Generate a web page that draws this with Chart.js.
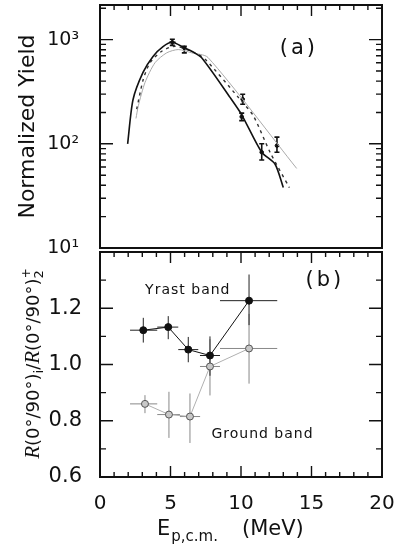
<!DOCTYPE html>
<html>
<head>
<meta charset="utf-8">
<title>Yield and ratio</title>
<script src="https://cdn.jsdelivr.net/npm/chart.js@4.4.1/dist/chart.umd.min.js"></script>
<style>
  body { margin: 0; background: #fff; }
  canvas { position: absolute; left: 0; }
</style>
</head>
<body>
<canvas id="topChart" width="399" height="262" style="top:0"></canvas>
<canvas id="botChart" width="399" height="301" style="top:247px"></canvas>
<script>
// ---- panel (a): normalized yield vs E_p,c.m. ----
const solidE = [1.96, 2.34, 3.05, 3.76, 4.47, 5.13, 5.98, 6.5, 7.21, 9.22, 10.05, 11.47, 12.41, 13.0];
const solidYield = [100, 265, 485, 690, 857, 943, 834, 774, 669, 279, 190, 83, 64, 38];
const dashE = [2.6, 3.07, 3.55, 4.38, 5.32, 6.74, 7.5, 9.81, 10.87, 12.06, 13.43];
const dashYield = [215, 416, 600, 774, 863, 747, 640, 279, 186, 83, 38];
const dotE = [2.55, 2.72, 3.19, 3.9, 4.73, 5.55, 6.5, 7.66, 13.95];
const dotYield = [175, 232, 387, 600, 747, 803, 747, 674, 58];
const measE = [5.13, 5.98, 10.12, 10.05, 11.47, 12.55];
const measYield = [943, 834, 268, 182, 83, 96];
const measLo = [880, 747, 240, 167, 70, 83];
const measHi = [1010, 863, 299, 197, 100, 116];
const measELo = [4.9, 5.98, 10.12, 10.05, 11.47, 12.55];
const measEHi = [5.36, 5.98, 10.12, 10.05, 11.47, 12.55];

// ---- panel (b): ratio R(0/90)_i / R(0/90)_2+ ----
const yrastE = [3.07, 4.84, 6.26, 7.8, 10.57];
const yrastR = [1.122, 1.133, 1.053, 1.032, 1.227];
const yrastRLo = [1.078, 1.09, 1.008, 0.96, 1.14];
const yrastRHi = [1.166, 1.172, 1.098, 1.10, 1.32];
const yrastELo = [2.13, 4.06, 5.55, 7.09, 8.51];
const yrastEHi = [4.06, 5.55, 6.97, 8.51, 12.57];
const groundE = [3.19, 4.89, 6.38, 7.8, 10.57];
const groundR = [0.86, 0.822, 0.815, 0.993, 1.057];
const groundRLo = [0.827, 0.739, 0.721, 0.89, 0.932];
const groundRHi = [0.891, 0.903, 0.897, 1.09, 1.18];
const groundELo = [2.13, 4.06, 5.67, 7.09, 8.51];
const groundEHi = [4.06, 5.67, 7.1, 8.51, 12.57];

const xMajor = [0, 5, 10, 15, 20];
const xMinor = [1, 2, 3, 4, 6, 7, 8, 9, 11, 12, 13, 14, 16, 17, 18, 19];
const yieldMajor = [10, 100, 1000];
const yieldMinor = [];
for (const d of [10, 100, 1000]) for (let k = 2; k <= 9; k++) if (k * d < 2150) yieldMinor.push(k * d);
const ratioMajor = [0.6, 0.8, 1.0, 1.2];
const ratioMinor = [0.7, 0.9, 1.1, 1.3];

const FONT = "'DejaVu Sans', sans-serif";
Chart.defaults.font.family = FONT;
Chart.defaults.color = '#111';
Chart.defaults.animation = false;

const pts = (xs, ys) => xs.map((x, i) => ({ x: x, y: ys[i] }));
const sup = { 1: '\u00b9', 2: '\u00b2', 3: '\u00b3' };
const noPad = s => { s.paddingTop = 0; s.paddingBottom = 0; s.paddingLeft = 0; s.paddingRight = 0; };

// frame + inward tick marks
const frameTicks = {
  id: 'frameTicks',
  afterDraw(chart, args, o) {
    const { ctx, chartArea: a, scales: { x, y } } = chart;
    ctx.save();
    ctx.strokeStyle = '#111';
    ctx.lineWidth = 2;
    ctx.strokeRect(a.left, a.top, a.right - a.left, a.bottom - a.top);
    ctx.lineWidth = 1.4;
    ctx.beginPath();
    const xt = (v, len) => {
      const p = x.getPixelForValue(v);
      ctx.moveTo(p, a.top); ctx.lineTo(p, a.top + len);
      if (o.bottomTicks) { ctx.moveTo(p, a.bottom); ctx.lineTo(p, a.bottom - len); }
    };
    const yt = (v, len) => {
      const p = y.getPixelForValue(v);
      ctx.moveTo(a.left, p); ctx.lineTo(a.left + len, p);
      ctx.moveTo(a.right, p); ctx.lineTo(a.right - len, p);
    };
    xMajor.forEach(v => xt(v, 11));
    xMinor.forEach(v => xt(v, 5));
    o.yMajor.forEach(v => yt(v, 13));
    o.yMinor.forEach(v => yt(v, 6));
    ctx.stroke();
    ctx.restore();
  }
};

const errorBars = {
  id: 'errorBars',
  beforeDatasetsDraw(chart) {
    const { ctx, scales: { x, y } } = chart;
    chart.data.datasets.forEach(ds => {
      const e = ds.errorBars;
      if (!e) return;
      ctx.save();
      ctx.strokeStyle = e.color;
      ctx.lineWidth = e.width;
      ctx.beginPath();
      ds.data.forEach((p, i) => {
        const px = x.getPixelForValue(p.x), py = y.getPixelForValue(p.y);
        const t = y.getPixelForValue(e.hi[i]), b = y.getPixelForValue(e.lo[i]);
        ctx.moveTo(px, t); ctx.lineTo(px, b);
        if (e.cap) {
          ctx.moveTo(px - e.cap, t); ctx.lineTo(px + e.cap, t);
          ctx.moveTo(px - e.cap, b); ctx.lineTo(px + e.cap, b);
        }
        const l = x.getPixelForValue(e.xlo[i]), r = x.getPixelForValue(e.xhi[i]);
        if (r - l > 1) { ctx.moveTo(l, py); ctx.lineTo(r, py); }
      });
      ctx.stroke();
      ctx.restore();
    });
  }
};

// text placed in data coordinates
const notes = {
  id: 'notes',
  afterDraw(chart, args, o) {
    const { ctx, scales: { x, y } } = chart;
    ctx.save();
    ctx.fillStyle = '#111';
    ctx.textBaseline = 'middle';
    (o.items || []).forEach(n => {
      ctx.font = n.font;
      ctx.letterSpacing = n.spacing || '0px';
      ctx.textAlign = n.align || 'left';
      ctx.fillText(n.text, x.getPixelForValue(n.x), y.getPixelForValue(n.y));
    });
    ctx.restore();
    if (o.extra) o.extra(chart);
  }
};

new Chart(document.getElementById('topChart'), {
  type: 'line',
  data: {
    datasets: [
      { data: pts(solidE, solidYield), borderColor: '#111', borderWidth: 1.6, pointRadius: 0, tension: 0.25 },
      { data: pts(dashE, dashYield), borderColor: '#333', borderWidth: 1.4, borderDash: [3, 4], pointRadius: 0, tension: 0.25 },
      { data: pts(dotE, dotYield), borderColor: '#aaa', borderWidth: 1, pointRadius: 0, tension: 0.25 },
      {
        data: pts(measE, measYield), showLine: false, pointRadius: 1.8,
        pointBackgroundColor: '#111', pointBorderColor: '#111',
        errorBars: { lo: measLo, hi: measHi, xlo: measELo, xhi: measEHi, color: '#111', width: 1.6, cap: 2.5 }
      }
    ]
  },
  options: {
    responsive: false,
    layout: { padding: { top: 5, right: 17, bottom: 14, left: 0 } },
    plugins: {
      legend: { display: false },
      tooltip: { enabled: false },
      frameTicks: { yMajor: yieldMajor, yMinor: yieldMinor, bottomTicks: false },
      notes: { items: [{ text: '(a)', x: 14.1, y: 820, font: '21px ' + FONT, align: 'center', spacing: '3px' }] }
    },
    scales: {
      x: { type: 'linear', min: 0, max: 20, display: false, afterFit: noPad },
      y: {
        type: 'logarithmic', min: 10, max: 2150,
        afterFit: s => { s.width = 100; noPad(s); },
        border: { display: false },
        grid: { display: false },
        title: { display: true, text: 'Normalized Yield', font: { size: 22 }, padding: { top: 15, bottom: 0 } },
        ticks: {
          autoSkip: false, padding: 13, font: { size: 19 },
          callback: v => {
            const l = Math.round(Math.log10(v));
            return Math.abs(Math.log10(v) - l) < 1e-6 ? '10' + sup[l] : '';
          }
        }
      }
    }
  },
  plugins: [frameTicks, errorBars, notes]
});

function drawBottomTitles(chart) {
  const { ctx, chartArea: a } = chart;
  ctx.save();
  ctx.fillStyle = '#111';
  ctx.textBaseline = 'alphabetic';
  // x axis title
  let xp = 157;
  const base = a.bottom + 58;
  ctx.font = '21px ' + FONT;
  ctx.fillText('E', xp, base);
  xp += ctx.measureText('E').width + 1;
  ctx.font = '15px ' + FONT;
  ctx.fillText('p,c.m.', xp, base + 6);
  ctx.font = '21px ' + FONT;
  ctx.fillText('(MeV)', 242, base);

  // y axis title, rotated
  const parts = [
    { t: 'R', f: 'italic 21px "Liberation Serif"', dy: 0 },
    { t: '(0\u00b0/90\u00b0)', f: '18px ' + FONT, dy: 0 },
    { t: 'i', f: '13px ' + FONT, dy: 4 },
    { t: '/', f: '18px ' + FONT, dy: 0 },
    { t: 'R', f: 'italic 21px "Liberation Serif"', dy: 0 },
    { t: '(0\u00b0/90\u00b0)', f: '18px ' + FONT, dy: 0 },
    { t: '2', f: '13px ' + FONT, dy: 4 }
  ];
  let total = 0;
  parts.forEach(p => { ctx.font = p.f; p.w = ctx.measureText(p.t).width; total += p.w; });
  ctx.translate(39, (a.top + a.bottom) / 2);
  ctx.rotate(-Math.PI / 2);
  let cx = -total / 2;
  parts.forEach(p => { ctx.font = p.f; ctx.fillText(p.t, cx, p.dy); cx += p.w; });
  ctx.font = '12px ' + FONT;
  ctx.fillText('+', cx - 8, -9);
  ctx.restore();
}

new Chart(document.getElementById('botChart'), {
  type: 'line',
  data: {
    datasets: [
      {
        data: pts(groundE, groundR), borderColor: '#b0b0b0', borderWidth: 1,
        pointRadius: 3.5, pointBackgroundColor: '#c8c8c8', pointBorderColor: '#555', pointBorderWidth: 1,
        errorBars: { lo: groundRLo, hi: groundRHi, xlo: groundELo, xhi: groundEHi, color: '#888', width: 1 }
      },
      {
        data: pts(yrastE, yrastR), borderColor: '#111', borderWidth: 1,
        pointRadius: 3.5, pointBackgroundColor: '#111', pointBorderColor: '#111',
        errorBars: { lo: yrastRLo, hi: yrastRHi, xlo: yrastELo, xhi: yrastEHi, color: '#222', width: 1 }
      }
    ]
  },
  options: {
    responsive: false,
    layout: { padding: { top: 1, right: 17, bottom: 0, left: 0 } },
    plugins: {
      legend: { display: false },
      tooltip: { enabled: false },
      frameTicks: { yMajor: ratioMajor, yMinor: ratioMinor, bottomTicks: true },
      notes: {
        items: [
          { text: '(b)', x: 15.95, y: 1.3, font: '21px ' + FONT, align: 'center', spacing: '3px' },
          { text: 'Yrast band', x: 3.2, y: 1.262, font: '14px ' + FONT, spacing: '1px' },
          { text: 'Ground band', x: 7.9, y: 0.75, font: '14px ' + FONT, spacing: '1px' }
        ],
        extra: drawBottomTitles
      }
    },
    scales: {
      x: {
        type: 'linear', min: 0, max: 20,
        afterFit: s => { s.height = 71; noPad(s); },
        border: { display: false },
        grid: { display: false },
        ticks: { stepSize: 5, padding: 7, font: { size: 20 }, maxRotation: 0 }
      },
      y: {
        type: 'linear', min: 0.6, max: 1.4,
        afterFit: s => { s.width = 100; noPad(s); },
        border: { display: false },
        grid: { display: false },
        ticks: {
          stepSize: 0.2, padding: 10, font: { size: 21 },
          callback: v => v > 1.39 ? '' : v.toFixed(1)
        }
      }
    }
  },
  plugins: [frameTicks, errorBars, notes]
});
</script>
</body>
</html>
